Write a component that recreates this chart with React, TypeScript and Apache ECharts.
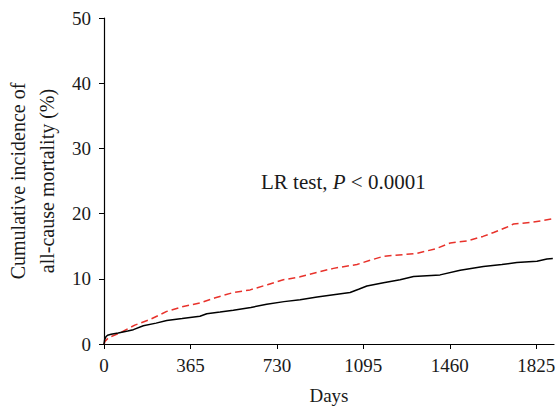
import React, { useEffect, useRef } from "react";
import * as echarts from "echarts";

const xTicks = [0, 365, 730, 1095, 1460, 1825];
const yTicks = [0, 10, 20, 30, 40, 50];

// [day, cumulative incidence %]
const blackSeries: [number, number][] = [
  [0, 0], [3, 0.7], [8, 1.1], [15, 1.35], [30, 1.5], [60, 1.7], [100, 2.0], [124, 2.2],
  [166, 2.8], [220, 3.2], [265, 3.6], [330, 3.9], [405, 4.25], [434, 4.65], [490, 4.9],
  [546, 5.16], [620, 5.6], [687, 6.1], [760, 6.5], [828, 6.8], [900, 7.2], [969, 7.56],
  [1039, 7.9], [1075, 8.4], [1110, 8.9], [1180, 9.4], [1250, 9.85], [1307, 10.35],
  [1419, 10.6], [1504, 11.3], [1602, 11.9], [1680, 12.2], [1743, 12.5], [1828, 12.7],
  [1870, 13.05], [1895, 13.1],
];

const redSeries: [number, number][] = [
  [0, 0], [4, 0.4], [20, 1.0], [68, 1.7], [130, 2.9], [194, 3.75], [265, 5.0], [330, 5.7],
  [405, 6.3], [470, 7.1], [546, 7.9], [617, 8.3], [690, 9.1], [757, 9.85], [828, 10.3],
  [900, 11.0], [969, 11.6], [1068, 12.2], [1120, 12.8], [1180, 13.45], [1321, 13.9],
  [1400, 14.6], [1462, 15.5], [1532, 15.8], [1600, 16.5], [1645, 17.1], [1700, 17.9],
  [1729, 18.4], [1813, 18.7], [1895, 19.2],
];

const FONT = "'Liberation Serif', 'DejaVu Serif', serif";

export default function App() {
  const ref = useRef<HTMLDivElement>(null);
  useEffect(() => {
    document.body.style.margin = "0";
    const chart = echarts.init(ref.current!, null, { renderer: "svg" });
    chart.setOption({
      animation: false,
      grid: { left: 104, top: 18, right: 4, bottom: 67, containLabel: false, outerBoundsMode: "none" },
      xAxis: {
        type: "value",
        min: 0,
        max: 1900,
        interval: 365,
        name: "Days",
        nameLocation: "middle",
        nameGap: 42,
        nameTextStyle: { fontFamily: FONT, fontSize: 19, color: "#1a1a1a" },
        axisLine: { lineStyle: { color: "#000", width: 1.2 } },
        axisTick: { show: true, length: 5, lineStyle: { color: "#000" }, customValues: xTicks },
        axisLabel: {
          fontFamily: FONT, fontSize: 19, color: "#1a1a1a", margin: 12,
          customValues: xTicks,
          formatter: (v: number) => String(v),
        },
        splitLine: { show: false },
      },
      yAxis: {
        type: "value",
        min: 0,
        max: 50,
        interval: 10,
        name: "Cumulative incidence of\nall-cause mortality (%)",
        nameLocation: "middle",
        nameGap: 39,
        nameTextStyle: { fontFamily: FONT, fontSize: 20, color: "#1a1a1a", lineHeight: 29 },
        axisLine: { show: true, lineStyle: { color: "#000", width: 1.2 } },
        axisTick: { show: true, length: 5, lineStyle: { color: "#000" }, customValues: yTicks },
        axisLabel: {
          fontFamily: FONT, fontSize: 19, color: "#1a1a1a", margin: 13, customValues: yTicks,
          formatter: (v: number) => String(v),
        },
        splitLine: { show: false },
      },
      graphic: [
        {
          type: "text",
          left: 261,
          top: 171,
          style: {
            text: "LR test, {i|P} < 0.0001",
            font: `21px ${FONT}`,
            fill: "#1a1a1a",
            rich: { i: { fontStyle: "italic", fontFamily: FONT, fontSize: 21, fill: "#1a1a1a" } },
          },
        },
      ],
      series: [
        {
          type: "line",
          data: blackSeries,
          showSymbol: false,
          lineStyle: { color: "#000", width: 1.5 },
          z: 3,
        },
        {
          type: "line",
          data: redSeries,
          showSymbol: false,
          lineStyle: { color: "#e8322b", width: 1.5, type: [7, 4] },
          z: 2,
        },
      ],
    });
    return () => chart.dispose();
  }, []);
  return <div ref={ref} style={{ width: 558, height: 411 }} />;
}
